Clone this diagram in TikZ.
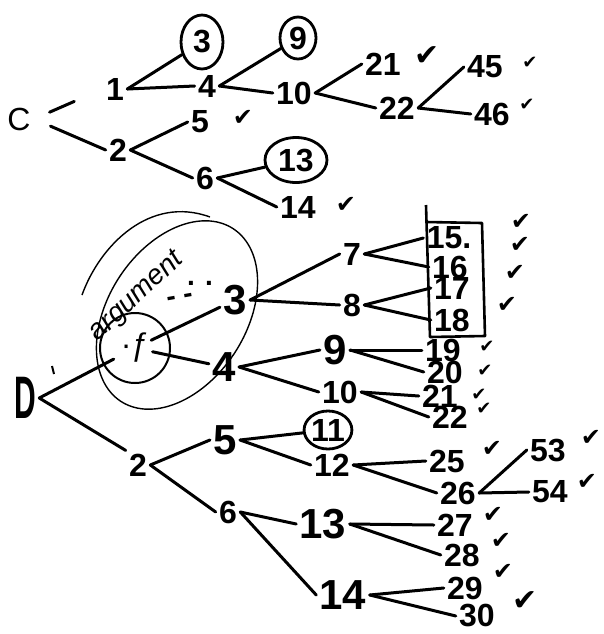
\documentclass[tikz,border=0pt]{standalone}
\usepackage{graphicx}
\usepackage{fontspec}
\setmainfont{Liberation Sans}
\newfontfamily\djv{DejaVu Sans}
\usetikzlibrary{shapes.geometric}
\begin{document}
\begin{tikzpicture}[x=0.5pt,y=-0.5pt,
  every node/.style={inner sep=1.5pt},
  num/.style={font=\fontsize{16}{16}\selectfont\bfseries},
  bignum/.style={font=\fontsize{21}{21}\selectfont\bfseries},
  cfont/.style={font=\fontsize{16}{16}\selectfont},
  ring/.style={ellipse, draw, line width=1.4pt, inner sep=0pt, font=\fontsize{16}{16}\selectfont\bfseries},
  chk/.style={font=\djv\fontsize{12}{12}\selectfont, inner sep=0pt},
  smallchk/.style={font=\djv\fontsize{9}{9}\selectfont, inner sep=0pt},
  bigchk/.style={font=\djv\fontsize{15}{15}\selectfont, inner sep=0pt},
  edge/.style={line width=1.5pt, line cap=round},
  pen/.style={line width=0.7pt}]
\fill[white] (0,0) rectangle (604,634);
\useasboundingbox (0,0) rectangle (604,634);

% ---------- top tree ----------
\node[cfont] (C) at (19,119) {C};
\node[num] (t1) at (115,89) {1};
\node[num] (t2) at (118,150) {2};
\node[ring, minimum width=21pt, minimum height=27pt] (t3) at (202,42) {3};
\node[num] (t4) at (207,86) {4};
\node[ring, minimum width=18pt, minimum height=21pt] (t9) at (298,38) {9};
\node[num] (t10) at (294,93) {10};
\node[num] (t5) at (200,122) {5};
\node[num] (t6) at (205,178) {6};
\node[ring, minimum width=31pt, minimum height=22.5pt] (t13) at (296,160) {13};
\node[num] (t14) at (298,207) {14};
\node[num] (t21) at (383,64) {21};
\node[num] (t22) at (397,108) {22};
\node[num] (t45) at (485,67) {45};
\node[num] (t46) at (492,114) {46};

\node[chk] (k5) at (243,118) {✔};
\node[chk] (k14) at (346,205) {✔};
\node[bigchk] (k21t) at (427,56) {✔};
\node[smallchk] (k45) at (530,63) {✔};
\node[smallchk] (k46) at (527,105) {✔};

\draw[edge, shorten <=8.5pt, shorten >=15.5pt] (C.east) -- (t1.west);
\draw[edge, shorten <=9pt] (C.east) -- (t2.west);
\draw[edge] (t1.east) -- (t3);
\draw[edge] (t1.east) -- (t4.west);
\draw[edge] (t4.east) -- (t9);
\draw[edge] (t4.east) -- (t10.west);
\draw[edge] (t10.east) -- (t21.west);
\draw[edge] (t10.east) -- (t22.west);
\draw[edge] (t22.east) -- (t45.west);
\draw[edge] (t22.east) -- (t46.west);
\draw[edge] (t2.east) -- (t5.west);
\draw[edge] (t2.east) -- (t6.west);
\draw[edge] (t6.east) -- (t13);
\draw[edge] (t6.east) -- (t14.west);

% ---------- bottom tree ----------
\node[font=\fontsize{30}{30}\selectfont\bfseries] (D) at (25,398) {\scalebox{0.5}[1]{D}};
\draw[line width=1pt] (52,366) -- (54,374);
\node[circle, draw, line width=1pt, minimum size=35pt, inner sep=0pt,
      font=\fontsize{16}{16}\selectfont] (b1) at (135,348) {·ƒ};
\node[bignum] (b3) at (235,300) {3};
\node[bignum] (b4) at (224,367) {4};
\node[num] (b7) at (352,254) {7};
\node[num] (b8) at (352,305) {8};
\node[bignum] (b9) at (335,350) {9};
\node[num] (b10) at (340,392) {10};
\node[num] (b15) at (449,238) {15.};
\node[num] (b16) at (450,267) {16};
\node[num] (b17) at (452,288) {17};
\node[num] (b18) at (452,320) {18};
\node[num] (b19) at (443,350) {19};
\node[num] (b20) at (445,372) {20};
\node[num] (b21) at (440,396) {21};
\node[num] (b22) at (450,417) {22};
\node[num] (b2) at (138,465) {2};
\node[bignum] (b5) at (225,440) {5};
\node[num] (b6) at (228,512) {6};
\node[ring, minimum width=23.5pt, minimum height=19pt] (c11) at (328,430) {11};
\node[num] (b12) at (332,465) {12};
\node[bignum] (b13) at (323,524) {13};
\node[bignum] (b14) at (343,595) {14};
\node[num] (b25) at (447,461) {25};
\node[num] (b26) at (458,493) {26};
\node[num] (b53) at (548,450) {53};
\node[num] (b54) at (550,492) {54};
\node[num] (b27) at (455,525) {27};
\node[num] (b28) at (462,555) {28};
\node[num] (b29) at (465,588) {29};
\node[num] (b30) at (477,616) {30};

\node[chk] (k15) at (521,222) {✔};
\node[chk] (k16) at (520,245) {✔};
\node[chk] (k17) at (515,273) {✔};
\node[chk] (k18) at (507,305) {✔};
\node[smallchk] (k19) at (487,347) {✔};
\node[smallchk] (k20) at (485,371) {✔};
\node[smallchk] (k21) at (479,395) {✔};
\node[smallchk] (k22) at (484,409) {✔};
\node[chk] (k25) at (492,449) {✔};
\node[chk] (k53) at (591,438) {✔};
\node[chk] (k54) at (587,482) {✔};
\node[chk] (k27) at (493,515) {✔};
\node[chk] (k28) at (501,541) {✔};
\node[chk] (k29) at (503,572) {✔};
\node[bigchk] (k30) at (525,601) {✔};

% box round 15-18
\draw[line width=1.3pt, line join=round] (426,205) -- (430,337) -- (485,336) -- (482,223) -- (426,222);

% ellipse, arc and scribbles
\draw[pen] plot[domain=0:355, samples=72, smooth cycle]
  ({177+103*cos(\x)*cos(57)+69*sin(\x)*sin(57)}, {315-103*cos(\x)*sin(57)+69*sin(\x)*cos(57)});
\draw[pen] (82,295) .. controls (100,245) and (150,195) .. (210,217);
\node[font=\fontsize{14}{14}\selectfont\itshape, rotate=43] (arg) at (137,297) {argument};
\node[font=\fontsize{14}{14}\selectfont\bfseries] (dots) at (200,283) {. .};
\node[font=\fontsize{14}{14}\selectfont\bfseries, rotate=10] (dash) at (180,300) {- -};

\draw[edge, shorten >=-6pt] (D.east) -- (b1);
\draw[edge] (D.east) -- (b2.north west);
\draw[edge, shorten <=9pt] (b1.center) -- (b3);
\draw[edge, shorten <=9pt] (b1.center) -- (b4);
\draw[edge] (b3.east) -- (b7.west);
\draw[edge] (b3.east) -- (b8.west);
\draw[edge] (b4.east) -- (b9.west);
\draw[edge] (b4.east) -- (b10.west);
\draw[edge] (b7.east) -- (b15.west);
\draw[edge] (b7.east) -- (b16.west);
\draw[edge] (b8.east) -- (b17.west);
\draw[edge] (b8.east) -- (b18.west);
\draw[edge] (b9.east) -- (b19.west);
\draw[edge] (b9.east) -- (b20.west);
\draw[edge] (b10.east) -- (b21.west);
\draw[edge] (b10.east) -- (b22.west);
\draw[edge] (b2.east) -- (b5.west);
\draw[edge] (b2.east) -- (b6.west);
\draw[edge] (b5.east) -- (c11);
\draw[edge] (b5.east) -- (b12.west);
\draw[edge] (b6.east) -- (b13.west);
\draw[edge] (b6.east) -- (b14.west);
\draw[edge] (b12.east) -- (b25.west);
\draw[edge] (b12.east) -- (b26.west);
\draw[edge] (b13.east) -- (b27.west);
\draw[edge] (b13.east) -- (b28.west);
\draw[edge] (b14.east) -- (b29.west);
\draw[edge] (b14.east) -- (b30.west);
\draw[edge] (b26.east) -- (b53.west);
\draw[edge] (b26.east) -- (b54.west);
\end{tikzpicture}
\end{document}
